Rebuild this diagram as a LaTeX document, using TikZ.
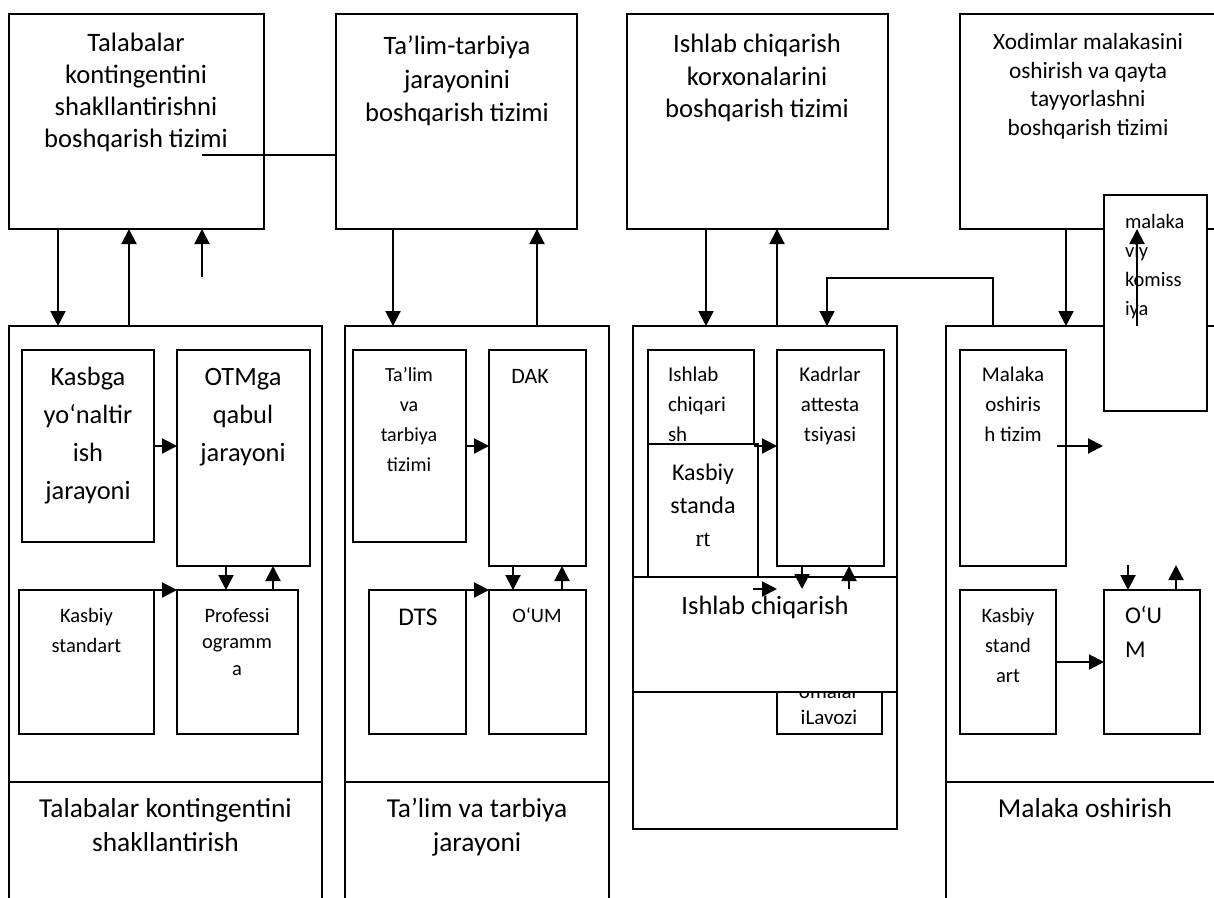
\documentclass[tikz,border=0pt]{standalone}
\usepackage{fontspec}
\setmainfont{Carlito}
\newfontfamily\rtfont{Liberation Serif}
\usetikzlibrary{arrows.meta}
\newcommand\fsz[2]{\fontsize{#1}{#2}\selectfont}
\tikzset{
  box/.style={draw, line width=1.8pt, anchor=north west, inner sep=0pt, outer sep=0pt},
  wbox/.style={box, fill=white},
  lbl/.style={align=center, inner sep=0pt, outer sep=0pt, anchor=north},
  lbll/.style={align=left, inner sep=0pt, outer sep=0pt, anchor=north west},
  arr/.style={line width=2pt, -{Triangle[length=15pt,width=15pt]}},
  fbln/.style={line width=1.5pt, -{Triangle[length=15pt,width=15pt]}},
  thinln/.style={line width=1.3pt},
  divln/.style={line width=1.8pt},
}
\begin{document}
\begin{tikzpicture}[x=1pt,y=-1pt]
\useasboundingbox (0,0) rectangle (1214,897);
\clip (0,0) rectangle (1214,897);

% top management boxes
\node[box, minimum width=255pt, minimum height=215pt] (T1) at (9,14) {};
\node[box, minimum width=241pt, minimum height=215pt] (T2) at (336,14) {};
\node[box, minimum width=261pt, minimum height=215pt] (T3) at (627,14) {};
\node[box, minimum width=270pt, minimum height=215pt] (T4) at (960,14) {};
\node[lbl, font=\fsz{26.6}{32.3}] (T1t) at (136,28.4) {\strut Talabalar\\kontingentini\\shakllantirishni\\boshqarish tizimi};
\node[lbl, font=\fsz{26.6}{33.5}] (T2t) at (457,31.5) {\strut Ta’lim-tarbiya\\jarayonini\\boshqarish tizimi};
\node[lbl, font=\fsz{26.6}{32.5}] (T3t) at (757,30) {\strut Ishlab chiqarish\\korxonalarini\\boshqarish tizimi};
\node[lbl, font=\fsz{23.3}{28.5}] (T4t) at (1088,30) {\strut Xodimlar malakasini\\oshirish va qayta\\tayyorlashni\\boshqarish tizimi};

\coordinate (c1) at (202,155);
\draw[thinln] (c1) -- (c1 -| T2.west);

% lower process boxes
\node[box, minimum width=313pt, minimum height=584pt] (L1) at (9,326) {};
\node[box, minimum width=264pt, minimum height=584pt] (L2) at (345,326) {};
\node[box, minimum width=264pt, minimum height=503pt] (L3) at (633,326) {};
\node[box, minimum width=284pt, minimum height=584pt] (L4) at (946,326) {};
\draw[divln] (L1.west |- 0,782) -- (L1.east |- 0,782);
\draw[divln] (L2.west |- 0,782) -- (L2.east |- 0,782);
\draw[divln] (L4.west |- 0,782) -- (L4.east |- 0,782);
\node[lbl, font=\fsz{27.4}{34}] (L1t) at (165.5,793.5) {\strut Talabalar kontingentini\\shakllantirish};
\node[lbl, font=\fsz{27.4}{34}] (L2t) at (477,793.5) {\strut Ta’lim va tarbiya\\jarayoni};
\node[lbl, font=\fsz{27.4}{34}] (L4t) at (1085,793.5) {\strut Malaka oshirish};

% column 1
\node[box, minimum width=132pt, minimum height=192pt] (A1) at (22,350) {};
\node[box, minimum width=133pt, minimum height=216pt] (A2) at (177,350) {};
\node[box, minimum width=135pt, minimum height=144pt] (A3) at (19,590) {};
\node[box, minimum width=121pt, minimum height=144pt] (A4) at (177,590) {};
\node[lbl, font=\fsz{26.4}{38}] (A1t) at (88,358.4) {\strut Kasbga\\yo‘naltir\\ish\\jarayoni};
\node[lbl, font=\fsz{26.4}{38}] (A2t) at (243,358.4) {\strut OTMga\\qabul\\jarayoni};
\node[lbl, font=\fsz{20.5}{30}] (A3t) at (86.5,601) {\strut Kasbiy\\standart};
\node[lbl, font=\fsz{20.5}{26.5}] (A4t) at (237,603.5) {\strut Professi\\ogramm\\a};

% column 2
\node[box, minimum width=113pt, minimum height=192pt] (B1) at (353,350) {};
\node[box, minimum width=97pt, minimum height=216pt] (B2) at (489,350) {};
\node[box, minimum width=97pt, minimum height=144pt] (B3) at (369,590) {};
\node[box, minimum width=97pt, minimum height=144pt] (B4) at (489,590) {};
\node[lbl, font=\fsz{20}{30}] (B1t) at (409,360) {\strut Ta’lim\\va\\tarbiya\\tizimi};
\node[lbl, font=\fsz{22}{26}] (B2t) at (530,364.8) {\strut DAK};
\node[lbl, font=\fsz{25.5}{30}] (B3t) at (418,604) {\strut DTS};
\node[lbl, font=\fsz{20.5}{26}] (B4t) at (537,603.8) {\strut O‘UM};

% column 3
\node[box, minimum width=106pt, minimum height=170pt] (C1) at (648,350) {};
\node[lbll, font=\fsz{21}{30}] (C1t) at (668,360) {\strut Ishlab\\chiqari\\sh};
\node[wbox, minimum width=110pt, minimum height=133pt] (C2) at (648,444) {};
\node[lbl, font=\fsz{24}{33}] (C2t) at (703,456.9) {\strut Kasbiy\\standa\\{\rtfont rt}};
\node[box, minimum width=107pt, minimum height=216pt] (C3) at (777,350) {};
\node[lbl, font=\fsz{21}{30}] (C3t) at (830,360) {\strut Kadrlar\\attesta\\tsiyasi};
\node[box, minimum width=105pt, minimum height=74pt] (C4) at (777,660) {};
\node[lbl, font=\fsz{21}{26}] (C4t) at (829,679.8) {\strut omalar\\iLavozi};
\node[wbox, minimum width=264pt, minimum height=115pt] (C5) at (633,577) {};
\node[lbl, font=\fsz{26.5}{32}] (C5t) at (765,591.6) {\strut Ishlab chiqarish};

% column 4
\node[box, minimum width=106pt, minimum height=216pt] (D1) at (960,350) {};
\node[box, minimum width=96pt, minimum height=144pt] (D2) at (960,590) {};
\node[box, minimum width=96pt, minimum height=144pt] (D3) at (1104,590) {};
\node[lbl, font=\fsz{21}{30}] (D1t) at (1013,360) {\strut Malaka\\oshiris\\h tizim};
\node[lbl, font=\fsz{20.5}{30}] (D2t) at (1008,601) {\strut Kasbiy\\stand\\art};
\node[lbll, font=\fsz{24}{34}] (D3t) at (1125,599.2) {\strut O‘U\\M};

\node[wbox, minimum width=103pt, minimum height=216pt] (M) at (1104,195) {};
\node[lbll, font=\fsz{20.5}{29}] (Mt) at (1125,207.7) {\strut malaka\\viy\\komiss\\iya};

% arrows between levels
\coordinate (f1) at (202,277);
\draw[arr] (T1.south -| 58,0) -- (L1.north -| 58,0);
\draw[arr] (L1.north -| 129,0) -- (T1.south -| 129,0);
\draw[arr] (f1) -- (f1 |- T1.south);
\draw[arr] (T2.south -| 393,0) -- (L2.north -| 393,0);
\draw[arr] (L2.north -| 537,0) -- (T2.south -| 537,0);
\draw[arr] (T3.south -| 706,0) -- (L3.north -| 706,0);
\draw[arr] (L3.north -| 777,0) -- (T3.south -| 777,0);
\draw[arr] (T4.south -| 1066,0) -- (L4.north -| 1066,0);
\coordinate (fb) at (827,278);
\draw[fbln] (L4.north -| 993,0) |- (fb) -- (fb |- L3.north);
\draw[arr] (L4.north -| 1137,0) -- (T4.south -| 1137,0);

% inner arrows column 1
\draw[arr] (A1.east) -- (A1.east -| A2.west);
\draw[arr] (A3.north east) -- (A4.north west);
\draw[arr] (A2.south -| 226,0) -- (A4.north -| 226,0);
\draw[arr] (A4.north -| 273,0) -- (A2.south -| 273,0);
% column 2
\draw[arr] (B1.east) -- (B1.east -| B2.west);
\draw[arr] (B3.north east) -- (B4.north west);
\draw[arr] (B2.south -| 513,0) -- (B4.north -| 513,0);
\draw[arr] (B4.north -| 562,0) -- (B2.south -| 562,0);
% column 3
\coordinate (ck) at (754,446);
\coordinate (cs) at (753,589);
\coordinate (cd) at (802,589);
\coordinate (cu) at (849,589);
\draw[arr] (ck) -- (ck -| C3.west);
\draw[arr] (cs) -- (cs -| C3.west);
\draw[arr] (cd |- C3.south) -- (cd);
\draw[arr] (cu) -- (cu |- C3.south);
% column 4
\coordinate (dm) at (1057,446);
\coordinate (dmt) at (1103,446);
\coordinate (dd) at (1128,565);
\coordinate (du) at (1176,565);
\draw[arr] (dm) -- (dmt);
\draw[arr] (D2.east) -- (D3.west);
\draw[arr] (dd) -- (dd |- D3.north);
\draw[arr] (du |- D3.north) -- (du);
\end{tikzpicture}
\end{document}
